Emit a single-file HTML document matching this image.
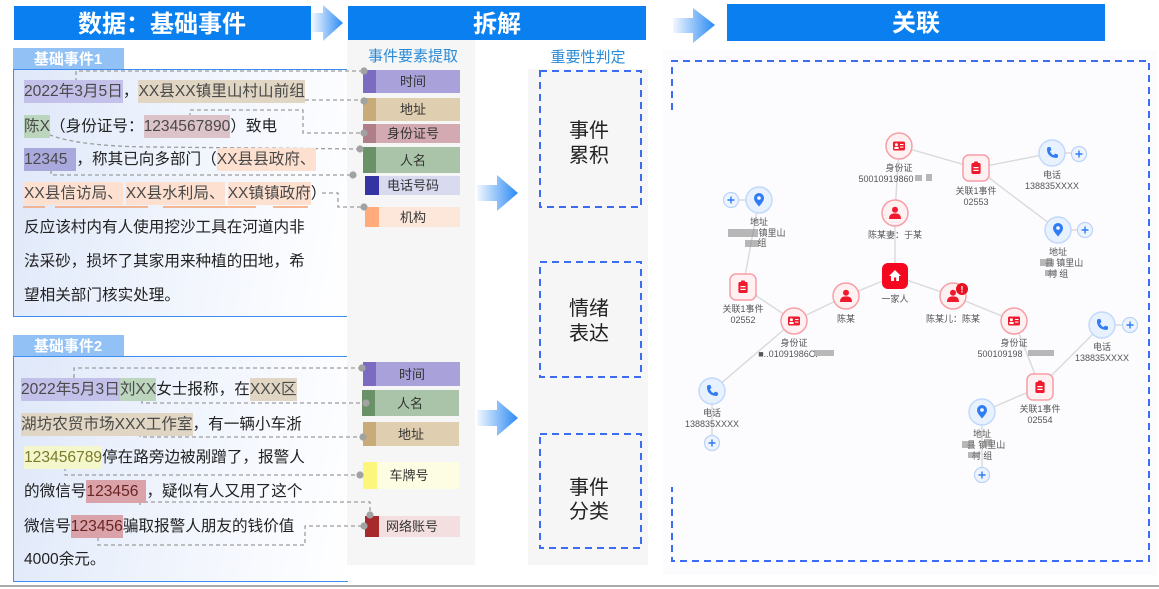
<!DOCTYPE html>
<html><head><meta charset="utf-8">
<style>
*{margin:0;padding:0;box-sizing:border-box}
body{width:1159px;height:589px;position:relative;overflow:hidden;background:#fff;font-family:"Liberation Sans","Noto Sans CJK SC",sans-serif}
.box{position:absolute;left:13px;width:335px;border:1.5px solid #3d8ef2;border-right:none;background:linear-gradient(100deg,#dfe8fa 0%,#eef3fc 45%,#fbfcff 85%,#fff 100%)}
.ln{position:absolute;left:24px;height:23px;line-height:23px;font-size:15.6px;color:#222;white-space:nowrap;z-index:3}
.ln span{display:inline-block;height:23px;line-height:23px;color:#4a4a4a}
.t{background:#c3c0e9}.a{background:#e0d6c3}.g{background:#bcd5bd}.m{background:#dcc2c9}.p{background:#a9a9de}.o{background:#fde0cf}.y{background:#f4f7cb;color:#7b7b2a!important}.r{background:#d9a3a9;color:#6a2424!important}
svg{position:absolute;left:0;top:0;z-index:2}
</style></head><body>
<div class="box" style="top:69px;height:248px"></div>
<div class="box" style="top:356px;height:226px"></div>

<div class="ln" style="top:80px"><span class="t">2022年3月5日</span>，<span class="a">XX县XX镇里山村山前组</span></div>
<div class="ln" style="top:115px"><span class="g">陈X</span>（身份证号：<span class="m">1234567890</span>）致电</div>
<div class="ln" style="top:148px"><span class="p" style="padding-right:9px">12345</span>，称其已向多部门（<span class="o">XX县县政府、</span></div>
<div class="ln" style="top:182px"><span class="o" style="margin-right:3px">XX县信访局、</span><span class="o" style="margin-right:3px">XX县水利局、</span><span class="o">XX镇镇政府</span>）</div>
<div class="ln" style="top:216px">反应该村内有人使用挖沙工具在河道内非</div>
<div class="ln" style="top:250px">法采砂，损坏了其家用来种植的田地，希</div>
<div class="ln" style="top:284px">望相关部门核实处理。</div>

<div class="ln" style="top:378px;left:21px"><span class="t">2022年5月3日</span><span class="g">刘XX</span>女士报称，在<span class="a">XXX区</span></div>
<div class="ln" style="top:413px;left:21px"><span class="a">湖坊农贸市场XXX工作室</span>，有一辆小车浙</div>
<div class="ln" style="top:446px"><span class="y">123456789</span>停在路旁边被剐蹭了，报警人</div>
<div class="ln" style="top:480px">的微信号<span class="r" style="padding-right:8px">123456</span>，疑似有人又用了这个</div>
<div class="ln" style="top:515px">微信号<span class="r">123456</span>骗取报警人朋友的钱价值</div>
<div class="ln" style="top:548px">4000余元。</div>

<svg width="1159" height="589" viewBox="0 0 1159 589" font-family="Liberation Sans, Noto Sans CJK SC, sans-serif">
<defs>
<linearGradient id="ag" x1="0" x2="1" y1="0" y2="0"><stop offset="0" stop-color="#f2f7ff"/><stop offset="1" stop-color="#2a8af4"/></linearGradient>
<g id="idc"><rect x="-6" y="-4.5" width="12" height="9" rx="1.5" fill="#f01a2e"/><circle cx="-2.6" cy="-1.2" r="1.5" fill="#fff"/><rect x="-4.6" y="1" width="4.2" height="2" fill="#fff"/><rect x="1" y="-2" width="3.5" height="1" fill="#fff"/><rect x="1" y="0.6" width="3.5" height="1" fill="#fff"/></g>
<g id="per"><circle cx="0" cy="-3.2" r="3" fill="#f01a2e"/><path d="M-6,6 Q-6,0.2 0,0.4 Q6,0.2 6,6 Z" fill="#f01a2e"/></g>
<g id="clip"><rect x="-4.6" y="-5" width="9.2" height="11" rx="1.5" fill="#f01a2e"/><rect x="-2" y="-6.5" width="4" height="2.6" rx="0.8" fill="#f01a2e"/><rect x="-2.6" y="-1" width="5.2" height="1.2" fill="#fff"/><rect x="-2.6" y="1.8" width="5.2" height="1.2" fill="#fff"/></g>
<g id="pin"><path d="M0,6.5 C-4,2 -5,0 -5,-2 A5,5 0 1 1 5,-2 C5,0 4,2 0,6.5 Z" fill="#2f7cf6"/><circle cx="0" cy="-2" r="1.8" fill="#fff"/></g>
<g id="ph"><path d="M-5,-4 Q-5,-6 -3,-6 L-1.6,-6 L-0.6,-3 L-2.1,-1.8 Q-0.6,1.5 1.8,2.1 L3,0.6 L6,1.6 L6,3 Q6,5 4,5 Q-5,4 -5,-4 Z" fill="#2f7cf6"/></g>
<g id="rc"><circle r="13" fill="#fff1f2" stroke="#f69ea6" stroke-width="1.5"/></g>
<g id="rs"><rect x="-13" y="-13" width="26" height="26" rx="6" fill="#fff1f2" stroke="#f69ea6" stroke-width="1.5"/></g>
<g id="bc"><circle r="13" fill="#e8f1fe" stroke="#c2d9fb" stroke-width="1.5"/></g>
<g id="pl"><circle r="7.5" fill="#eef4fe" stroke="#b9d3fa" stroke-width="1.2"/><path d="M-3.5,0 H3.5 M0,-3.5 V3.5" stroke="#2f7cf6" stroke-width="1.4"/></g>
</defs>

<!-- headers -->
<rect x="14" y="6" width="297" height="34" fill="#0a7ff0"/>
<text x="162" y="32" font-size="24" font-weight="bold" fill="#fff" text-anchor="middle">数据：基础事件</text>
<polygon points="312,13 323,13 323,5 343,23 323,41 323,32 312,32" fill="url(#ag)"/>
<rect x="348" y="6" width="298" height="34" fill="#0a7ff0"/>
<text x="497" y="32" font-size="24" font-weight="bold" fill="#fff" text-anchor="middle">拆解</text>
<polygon points="673,18 693,18 693,8 715,25 693,43 693,33 673,33" fill="url(#ag)"/>
<rect x="727" y="4" width="378" height="37" fill="#0a7ff0"/>
<text x="916" y="31" font-size="24" font-weight="bold" fill="#fff" text-anchor="middle">关联</text>

<!-- tabs -->
<rect x="13" y="48" width="111" height="21" fill="#92c1f6"/>
<text x="68" y="64" font-size="15" font-weight="bold" fill="#fff" text-anchor="middle">基础事件1</text>
<rect x="13" y="335" width="111" height="21" fill="#92c1f6"/>
<text x="68" y="351" font-size="15" font-weight="bold" fill="#fff" text-anchor="middle">基础事件2</text>

<!-- columns -->
<rect x="347" y="40" width="128" height="525" fill="#f6f6f6"/>
<rect x="528" y="69" width="120" height="496" fill="#f6f6f6"/>
<text x="413" y="61" font-size="15" fill="#2b8ad6" text-anchor="middle">事件要素提取</text>
<text x="588" y="62" font-size="15" fill="#2b8ad6" text-anchor="middle">重要性判定</text>

<!-- labels event1 -->
<g font-size="13" fill="#333" text-anchor="middle">
<rect x="363" y="70" width="97" height="23" fill="#a9a1d9"/><rect x="363" y="70" width="13" height="23" fill="#7b6cc2"/><text x="413" y="86">时间</text>
<rect x="363" y="98" width="97" height="23" fill="#e0ceb0"/><rect x="363" y="98" width="13" height="23" fill="#c9ab7a"/><text x="413" y="114">地址</text>
<rect x="363" y="124" width="97" height="19" fill="#d3aab1"/><rect x="363" y="124" width="13" height="19" fill="#b07e88"/><text x="413" y="138">身份证号</text>
<rect x="363" y="147" width="97" height="26" fill="#a9c4a8"/><rect x="363" y="147" width="13" height="26" fill="#6b9169"/><text x="413" y="165">人名</text>
<rect x="365" y="176" width="95" height="19" fill="#d9d9f0"/><rect x="365" y="176" width="14" height="19" fill="#3434a2"/><text x="413" y="190">电话号码</text>
<rect x="365" y="207" width="95" height="20" fill="#fce7da"/><rect x="365" y="207" width="14" height="20" fill="#ffab7b"/><text x="413" y="222">机构</text>
<!-- labels event2 -->
<rect x="363" y="362" width="97" height="24" fill="#a9a1d9"/><rect x="363" y="362" width="13" height="24" fill="#7b6cc2"/><text x="412" y="379">时间</text>
<rect x="362" y="390" width="97" height="26" fill="#a9c4a8"/><rect x="362" y="390" width="13" height="26" fill="#6b9169"/><text x="410" y="408">人名</text>
<rect x="363" y="422" width="96" height="24" fill="#e0ceb0"/><rect x="363" y="422" width="13" height="24" fill="#c9ab7a"/><text x="411" y="439">地址</text>
<rect x="363" y="462" width="96" height="27" fill="#fdfde3"/><rect x="363" y="462" width="14" height="27" fill="#fdf67c"/><text x="409" y="480">车牌号</text>
<rect x="365" y="516" width="95" height="21" fill="#f3dfdf"/><rect x="365" y="516" width="14" height="21" fill="#a62a2c"/><text x="412" y="531">网络账号</text>
</g>

<!-- orange underlines -->
<g stroke="#f6a26f" stroke-width="1.5">
<path d="M228,168 H302 M23,207 H45 M55,207 H148 M163,207 H256 M273,207 H308"/>
</g>

<!-- dashed connectors -->
<g fill="none" stroke="#9d9d9d" stroke-width="1.3" stroke-dasharray="4 3">
<path d="M76,82 V71 H364"/>
<path d="M305,100 H364"/>
<path d="M190,117 V110 H303 V133 H364"/>
<path d="M37,128 Q60,146 150,147 L360,149"/>
<path d="M51,170 V175 H353"/>
<path d="M322,193 H338 V207 H364"/>
<path d="M74,378 V368 H362"/>
<path d="M142,400 V403 H366"/>
<path d="M140,433 V437 H363"/>
<path d="M65,467 V475 H360"/>
<path d="M140,505 V502 H370 V515"/>
<path d="M98,537 V545 H305 V526 H364"/>
</g>
<g fill="#a2a2a2">
<circle cx="364" cy="71" r="3.6"/><circle cx="364" cy="101" r="3.6"/><circle cx="364" cy="133" r="3.6"/><circle cx="360" cy="149" r="3.6"/><circle cx="353" cy="175" r="3.6"/><circle cx="364" cy="207" r="3.6"/>
<circle cx="362" cy="368" r="3.6"/><circle cx="366" cy="403" r="3.6"/><circle cx="363" cy="437" r="3.6"/><circle cx="360" cy="475" r="3.6"/><circle cx="370" cy="515" r="3.6"/><circle cx="364" cy="526" r="3.6"/>
</g>

<!-- middle arrows -->
<polygon points="477,185 497,185 497,175 518,193 497,211 497,201 477,201" fill="url(#ag)"/>
<polygon points="477,410 497,410 497,400 518,418 497,436 497,426 477,426" fill="url(#ag)"/>

<!-- importance boxes -->
<g fill="none" stroke="#3b6cf2" stroke-width="2" stroke-dasharray="7 5">
<rect x="540" y="71" width="101" height="136"/>
<rect x="540" y="262" width="101" height="115"/>
<rect x="540" y="434" width="101" height="114"/>
</g>
<g font-size="20" fill="#222" text-anchor="middle">
<text x="589" y="137">事件</text><text x="589" y="162">累积</text>
<text x="589" y="315">情绪</text><text x="589" y="340">表达</text>
<text x="589" y="494">事件</text><text x="589" y="518">分类</text>
</g>

<!-- right panel -->
<rect x="663" y="50" width="494" height="525" fill="#fcfcfe"/>
<path d="M672,110 V61 H1149 V561 H672 V487" fill="none" stroke="#3b6cf2" stroke-width="2" stroke-dasharray="7 5"/>

<!-- edges -->
<g stroke="#d9d9d9" stroke-width="1.4" fill="none">
<path d="M899,146 L976,168 L1052,153"/>
<path d="M976,168 L1058,230"/>
<path d="M899,146 L895,213 L895,276"/>
<path d="M846,296 L895,276 L953,296"/>
<path d="M846,296 L794,321 L743,287 L759,200"/>
<path d="M794,321 L712,391"/>
<path d="M953,296 L1014,321 L1040,387 L1102,325"/>
<path d="M1040,387 L982,412"/>
<path d="M1052,153 H1079 M1058,230 H1085 M1102,325 H1130 M712,391 V443 M759,200 H731 M982,412 V475"/>
</g>

<!-- nodes -->
<use href="#rc" x="899" y="146"/><use href="#idc" x="899" y="146"/>
<use href="#rc" x="794" y="321"/><use href="#idc" x="794" y="321"/>
<use href="#rc" x="1014" y="321"/><use href="#idc" x="1014" y="321"/>
<use href="#rc" x="895" y="213"/><use href="#per" x="895" y="213"/>
<use href="#rc" x="846" y="296"/><use href="#per" x="846" y="296"/>
<use href="#rc" x="953" y="296"/><use href="#per" x="953" y="296"/>
<circle cx="962" cy="289" r="6" fill="#e8101f"/><text x="962" y="292.5" font-size="9" font-weight="bold" fill="#fff" text-anchor="middle">!</text>
<use href="#rs" x="976" y="168"/><use href="#clip" x="976" y="168"/>
<use href="#rs" x="743" y="287"/><use href="#clip" x="743" y="287"/>
<use href="#rs" x="1040" y="387"/><use href="#clip" x="1040" y="387"/>
<rect x="882" y="263" width="26" height="26" rx="6" fill="#f5081f"/>
<path d="M889,276 L895,270 L901,276 L899,276 L899,281 L891,281 L891,276 Z" fill="#fff"/><rect x="894" y="277.5" width="2.2" height="3.5" fill="#f5081f"/>
<use href="#bc" x="1052" y="153"/><use href="#ph" x="1052" y="153"/><use href="#pl" x="1079" y="154"/>
<use href="#bc" x="1102" y="325"/><use href="#ph" x="1102" y="325"/><use href="#pl" x="1130" y="325"/>
<use href="#bc" x="712" y="391"/><use href="#ph" x="712" y="391"/><use href="#pl" x="712" y="443"/>
<use href="#bc" x="1058" y="230"/><use href="#pin" x="1058" y="230"/><use href="#pl" x="1085" y="230"/>
<use href="#bc" x="759" y="200"/><use href="#pin" x="759" y="200"/><use href="#pl" x="731" y="200"/>
<use href="#bc" x="982" y="412"/><use href="#pin" x="982" y="412"/><use href="#pl" x="982" y="475"/>

<!-- node labels -->
<g font-size="9" fill="#555" text-anchor="middle">
<text x="899" y="171">身份证</text><text x="886" y="182">50010919860</text>
<text x="976" y="194">关联1事件</text><text x="976" y="205">02553</text>
<text x="1052" y="178">电话</text><text x="1052" y="189">138835XXXX</text>
<text x="1058" y="255">地址</text><text x="1064" y="266">县 镇里山</text><text x="1058" y="277">村 组</text>
<text x="759" y="225">地址</text><text x="772" y="236">镇里山</text><text x="762" y="246">组</text>
<text x="895" y="238">陈某妻：于某</text>
<text x="895" y="302">一家人</text>
<text x="743" y="312">关联1事件</text><text x="743" y="323">02552</text>
<text x="794" y="346">身份证</text><text x="788" y="357">■..01091986C.</text>
<text x="846" y="322">陈某</text>
<text x="953" y="322">陈某儿：陈某</text>
<text x="1014" y="346">身份证</text><text x="1000" y="357">500109198</text>
<text x="1102" y="350">电话</text><text x="1102" y="361">138835XXXX</text>
<text x="1040" y="412">关联1事件</text><text x="1040" y="423">02554</text>
<text x="982" y="437">地址</text><text x="986" y="448">县 镇里山</text><text x="982" y="459">村 组</text>
<text x="712" y="416">电话</text><text x="712" y="427">138835XXXX</text>
</g>
<g fill="#8a8a8a" opacity="0.6">
<rect x="915" y="175" width="7" height="6"/><rect x="926" y="174" width="6" height="7"/>
<rect x="814" y="350" width="20" height="6"/><rect x="1028" y="350" width="26" height="6"/>
<rect x="1040" y="259" width="14" height="7"/><rect x="1045" y="270" width="12" height="6"/>
<rect x="728" y="229" width="30" height="8"/><rect x="745" y="240" width="14" height="7"/>
<rect x="962" y="441" width="12" height="7"/><rect x="984" y="439" width="8" height="7"/><rect x="968" y="452" width="12" height="6"/>
</g>

<!-- bottom rule -->
<rect x="0" y="585" width="1159" height="2" fill="#a9a9a9"/>
</svg>
</body></html>
